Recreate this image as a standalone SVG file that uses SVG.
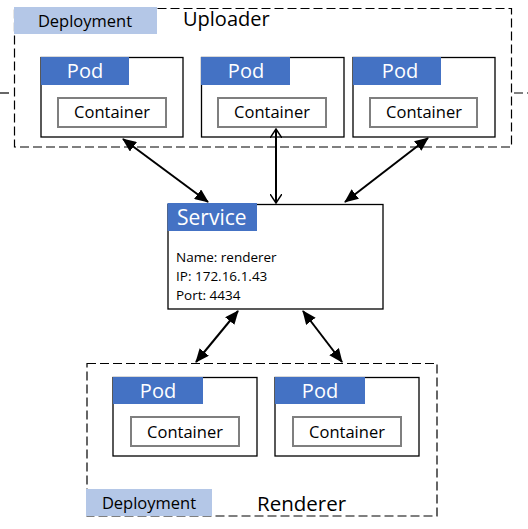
<svg xmlns="http://www.w3.org/2000/svg" width="528" height="529" viewBox="0 0 528 529">
<style>
.dash{fill:none;stroke:#000;stroke-width:1.2;stroke-dasharray:9,4}
.pod{fill:#fff;stroke:#000;stroke-width:1.3}
.podlbl{fill:#4472C4}
.cont{fill:#fff;stroke:#7f7f7f;stroke-width:2}
.dep{fill:#B4C7E7}
.t{font-family:"Segoe UI","Open Sans","Noto Sans",sans-serif;fill:#000}
.w{fill:#fff}
.conn{stroke:#000;stroke-width:2;fill:none}
</style>
<defs>
<marker id="fa" viewBox="0 0 14 12" refX="13" refY="6" markerWidth="14" markerHeight="12" markerUnits="userSpaceOnUse" orient="auto-start-reverse">
<path d="M0,0 L14,6 L0,12 z" fill="#000"/>
</marker>
<marker id="oa" viewBox="0 0 10 12" refX="9" refY="6" markerWidth="10" markerHeight="12" markerUnits="userSpaceOnUse" orient="auto-start-reverse">
<path d="M0,0 L9,6 L0,12" fill="none" stroke="#000" stroke-width="1.5"/>
</marker>
</defs>
<g id="uploader">
<rect class="dash" x="14.5" y="8.5" width="497" height="138.5"/>
<rect class="dep" x="14" y="7" width="143" height="27"/>
<text class="t" x="85" y="27" font-size="16.5" text-anchor="middle">Deployment</text>
<text class="t" x="183" y="26" font-size="20">Uploader</text>
<line class="dash" x1="0" y1="93" x2="13" y2="93"/>
<line class="dash" x1="514" y1="93" x2="528" y2="93"/>
</g>
<g id="pod1">
<rect class="pod" x="41" y="57.5" width="142" height="79.5"/>
<rect class="podlbl" x="41" y="57" width="88" height="28"/>
<text class="t w" x="85" y="78" font-size="20" text-anchor="middle">Pod</text>
<rect class="cont" x="58" y="98" width="108" height="29"/>
<text class="t" x="112" y="118" font-size="16.5" text-anchor="middle">Container</text>
</g>
<g id="pod2">
<rect class="pod" x="201.5" y="57.5" width="142.5" height="79.5"/>
<rect class="podlbl" x="201" y="57" width="89" height="28"/>
<text class="t w" x="246" y="78" font-size="20" text-anchor="middle">Pod</text>
<rect class="cont" x="218" y="98" width="108" height="29"/>
<text class="t" x="272" y="118" font-size="16.5" text-anchor="middle">Container</text>
</g>
<g id="pod3">
<rect class="pod" x="353" y="57.5" width="142" height="79.5"/>
<rect class="podlbl" x="353" y="57" width="88" height="28"/>
<text class="t w" x="400" y="78" font-size="20" text-anchor="middle">Pod</text>
<rect class="cont" x="370" y="98" width="107" height="29"/>
<text class="t" x="424" y="118" font-size="16.5" text-anchor="middle">Container</text>
</g>
<g id="service">
<rect class="pod" x="168" y="204.5" width="215" height="104.5"/>
<rect class="podlbl" x="167.5" y="203" width="89.5" height="28"/>
<text class="t w" x="177" y="225" font-size="21">Service</text>
<text class="t" x="176" y="262" font-size="13.5">Name: renderer</text>
<text class="t" x="176" y="281" font-size="13.5">IP: 172.16.1.43</text>
<text class="t" x="176" y="300" font-size="13.5">Port: 4434</text>
</g>
<g id="renderer">
<rect class="dash" x="87" y="363.5" width="350" height="152.5"/>
<rect class="dep" x="86" y="489" width="126" height="27"/>
<text class="t" x="149" y="509" font-size="16.5" text-anchor="middle">Deployment</text>
<text class="t" x="257" y="511" font-size="20.5">Renderer</text>
</g>
<g id="pod4">
<rect class="pod" x="113" y="377.5" width="144" height="78.5"/>
<rect class="podlbl" x="113" y="377" width="90" height="27"/>
<text class="t w" x="158" y="398" font-size="20" text-anchor="middle">Pod</text>
<rect class="cont" x="131" y="417" width="108" height="29"/>
<text class="t" x="185" y="438" font-size="16.5" text-anchor="middle">Container</text>
</g>
<g id="pod5">
<rect class="pod" x="275" y="377.5" width="144" height="78.5"/>
<rect class="podlbl" x="275" y="377" width="90" height="27"/>
<text class="t w" x="320" y="398" font-size="20" text-anchor="middle">Pod</text>
<rect class="cont" x="293" y="417" width="108" height="29"/>
<text class="t" x="347" y="438" font-size="16.5" text-anchor="middle">Container</text>
</g>
<g id="connectors">
<line class="conn" x1="123" y1="139" x2="208" y2="202" marker-start="url(#fa)" marker-end="url(#fa)"/>
<line class="conn" x1="276" y1="129" x2="276" y2="203" marker-start="url(#oa)" marker-end="url(#oa)"/>
<line class="conn" x1="428" y1="138" x2="345" y2="202" marker-start="url(#fa)" marker-end="url(#fa)"/>
<line class="conn" x1="238" y1="311" x2="196" y2="362" marker-start="url(#fa)" marker-end="url(#fa)"/>
<line class="conn" x1="303" y1="311" x2="342" y2="362" marker-start="url(#fa)" marker-end="url(#fa)"/>
</g>
</svg>
